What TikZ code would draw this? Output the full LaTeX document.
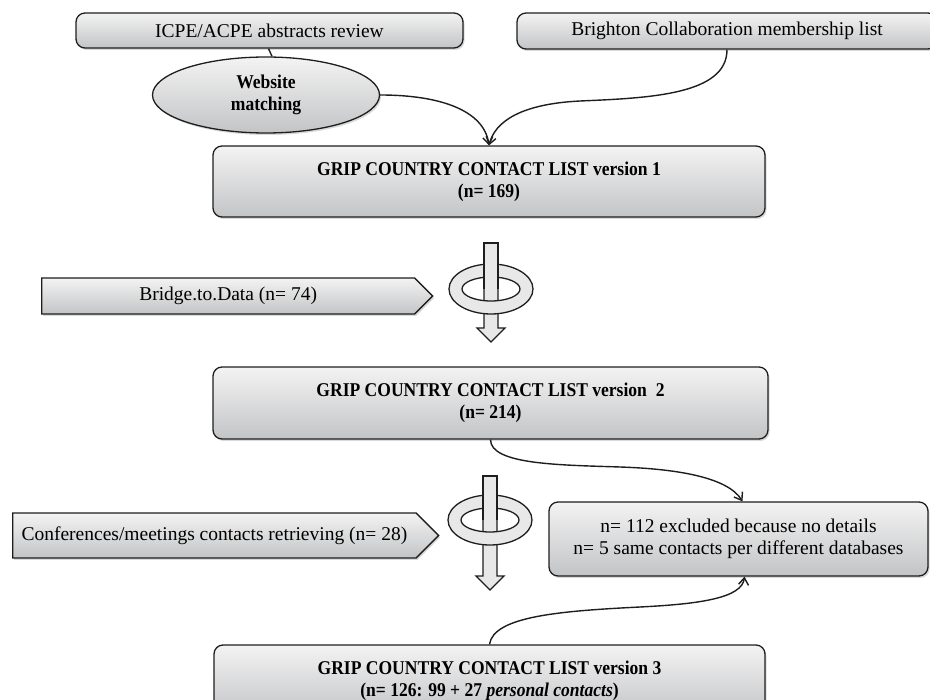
\documentclass[tikz,border=0pt]{standalone}
\usepackage{fontspec}
\setmainfont{Liberation Serif}
\newfontfamily\condserif[FakeStretch=0.9]{Liberation Serif}
\usetikzlibrary{arrows.meta,shapes.geometric,shapes.symbols,shadows}
\newcommand\regfont{\fontsize{19.5}{22}\selectfont}
\newcommand\bigbold{\condserif\fontsize{19.5}{22}\selectfont\bfseries}
\definecolor{edge}{HTML}{1E1E1E}
\definecolor{gtop}{HTML}{F3F3F3}
\definecolor{gbot}{HTML}{C3C4C6}
\tikzset{
  gbox/.style={draw=edge,line width=1.3pt,rounded corners=9pt,top color=gtop,bottom color=gbot,
    drop shadow={shadow xshift=1.5pt,shadow yshift=-2pt,opacity=.3},inner sep=0pt,align=center,font=\regfont},
  pent/.style={signal,signal to=east,signal pointer angle=90,draw=edge,line width=1.3pt,top color=gtop,bottom color=gbot,
    drop shadow={shadow xshift=1.5pt,shadow yshift=-2pt,opacity=.3},inner sep=0pt,font=\regfont},
  oval/.style={ellipse,draw=edge,line width=1.3pt,top color=gtop,bottom color=gbot,
    drop shadow={shadow xshift=1.5pt,shadow yshift=-2pt,opacity=.3},inner sep=0pt,align=center,font=\bigbold},
  conn/.style={draw=edge,line width=1.4pt},
  arr/.style={conn,-{Straight Barb[length=7pt,width=10pt]}},
  ringpart/.style={draw=edge,line width=1.3pt,fill=gray!18},
}
\newcommand\ringarrow[5]{%
  % #1 cx, #2 cy, #3 shaft top, #4 head base, #5 tip
  \filldraw[ringpart] (#1-7,#3) -- (#1+7,#3) -- (#1+7,#4) -- (#1+14,#4) -- (#1,#5) -- (#1-14,#4) -- (#1-7,#4) -- cycle;
  \filldraw[ringpart,even odd rule] (#1,#2) ellipse [x radius=42, y radius=25] (#1,#2) ellipse [x radius=29, y radius=12];
  \fill[gray!18] (#1-7,#3) rectangle (#1+7,#2);
  \draw[draw=edge,line width=1.3pt] (#1-7,#2) -- (#1-7,#3) -- (#1+7,#3) -- (#1+7,#2);
}
\begin{document}
\begin{tikzpicture}[x=1pt,y=-1pt]
\useasboundingbox (0,0) rectangle (930,700);
\clip (0,0) rectangle (930,700);

% top sources
\node[gbox,minimum width=387pt,minimum height=35pt] (icpe) at (269.5,30.5) {ICPE/ACPE abstracts review};
\node[gbox,minimum width=420pt,minimum height=36pt] (brig) at (727,31) {\raisebox{-3pt}{Brighton Collaboration membership list}};
\node[oval,minimum width=227pt,minimum height=76pt] (web) at (266,95) {Website\\matching};

% main boxes
\node[gbox,font=\bigbold,minimum width=552pt,minimum height=71pt] (v1) at (489,181.5) {GRIP COUNTRY CONTACT LIST version 1\\(n= 169)};
\node[gbox,font=\bigbold,minimum width=555pt,minimum height=72pt] (v2) at (490.5,403) {GRIP COUNTRY CONTACT LIST version\ \ 2\\(n= 214)};
\node[gbox,font=\bigbold,minimum width=551pt,minimum height=72pt] (v3) at (489.5,681) {GRIP COUNTRY CONTACT LIST version 3\\(n= 126: 99 + 27 \textit{personal contacts})};
\node[gbox,minimum width=379pt,minimum height=74pt] (excl) at (738.5,539) {n= 112 excluded because no details\\n= 5 same contacts per different databases};

% side inputs
\node[pent,minimum width=391pt,minimum height=36pt,anchor=west] (bridge) at (41,296) {Bridge.to.Data (n= 74)};
\node[pent,minimum width=426pt,minimum height=45pt,anchor=west] (conf) at (12,535.5) {Conferences/meetings contacts retrieving (n= 28)};

% ring arrows
\ringarrow{491}{289}{243}{328}{342}
\ringarrow{490}{520}{476}{576}{590}

% connectors
\draw[conn] ([xshift=-1pt]icpe.south) -- ([xshift=6pt]web.north);
\draw[arr] (web.east) .. controls +(60,0) and +(-5,-35) .. (v1.north);
\draw[arr] (brig.south) .. controls +(0,45) and (650,98) .. (580,101) .. controls (520,104) and (495,122) .. (v1.north);
\draw[arr] (v2.south) .. controls +(0,25) and (560,465) .. (620,467) .. controls (680,469) and (728,478) .. ([xshift=4pt]excl.north);
\draw[arr] (v3.north) .. controls +(4,-28) and (560,611) .. (640,607) .. controls (700,604) and (742,598) .. ([xshift=6pt]excl.south);
\end{tikzpicture}
\end{document}
